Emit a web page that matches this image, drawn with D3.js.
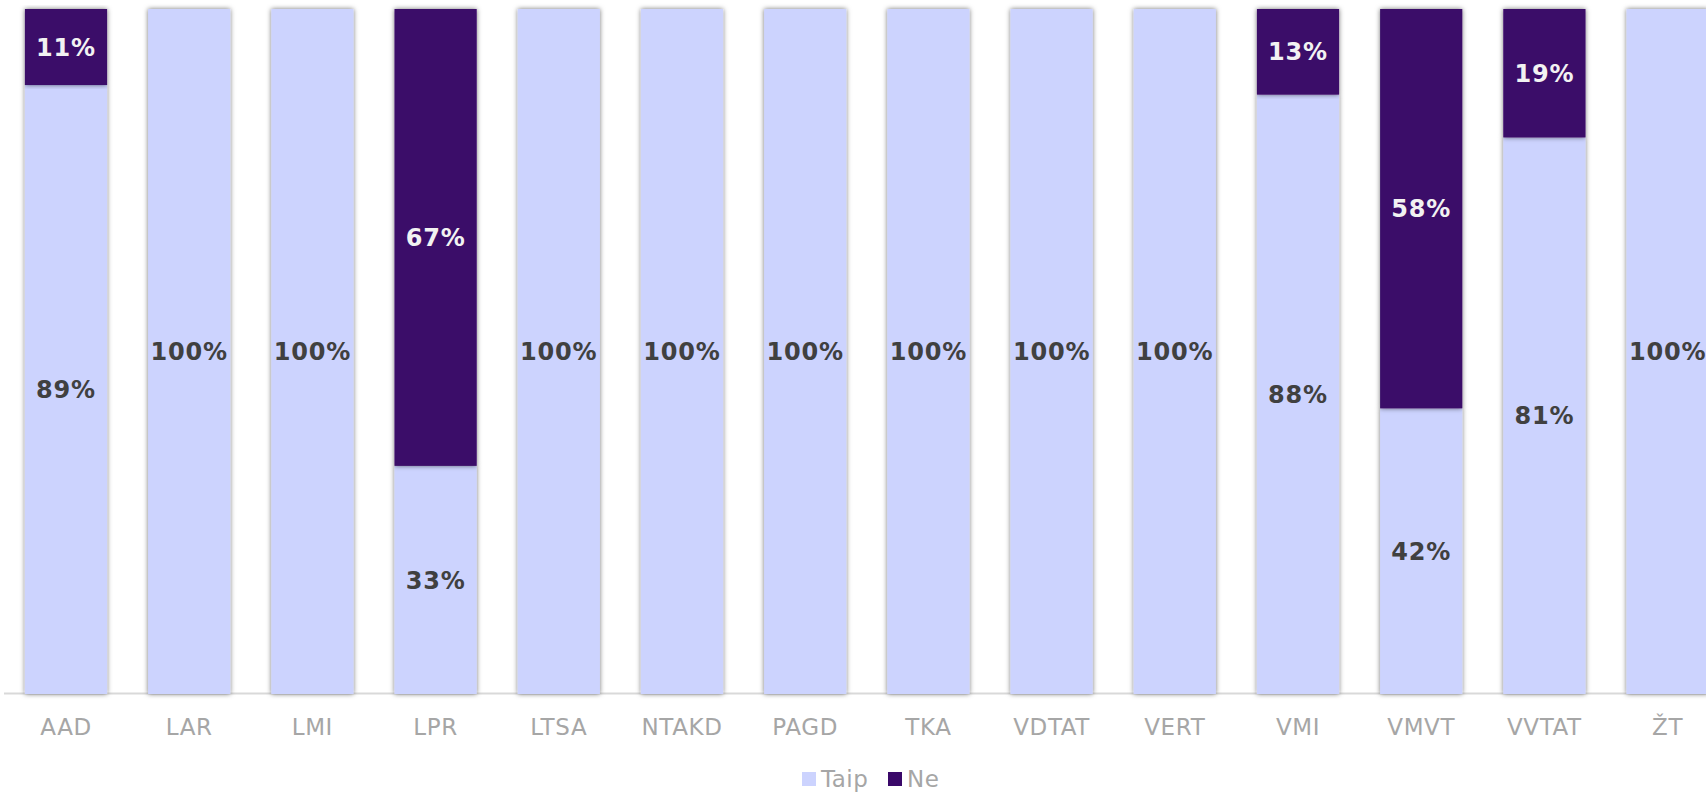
<!DOCTYPE html>
<html>
<head>
    <script type="text/javascript" src="https://d3js.org/d3.v7.min.js"></script>
    <style>
        body { margin: 0; background: #fff; }
        svg text { font-family: Verdana, "DejaVu Sans", sans-serif; }
        .axis-label { fill: #a6a6a6; font-size: 23px; text-anchor: middle; letter-spacing: 0.6px; }
        .val { font-size: 24px; font-weight: bold; text-anchor: middle; letter-spacing: 0.8px; }
        .legend-text { fill: #a6a6a6; font-size: 23px; letter-spacing: 0.5px; }
    </style>
    <title>Taip / Ne</title>
</head>
<body>
    <svg width="1706" height="792"></svg>
    <script>
        // data
        var categories = ["AAD", "LAR", "LMI", "LPR", "LTSA", "NTAKD", "PAGD", "TKA", "VDTAT", "VERT", "VMI", "VMVT", "VVTAT", "ŽT"];
        var taip = [88.9, 100, 100, 33.3, 100, 100, 100, 100, 100, 100, 87.5, 41.7, 81.25, 100];
        var ne   = [11.1, 0, 0, 66.7, 0, 0, 0, 0, 0, 0, 12.5, 58.3, 18.75, 0];
        var seriesNames = ["Taip", "Ne"];
        var colors = ["#ccd3fe", "#3a0869"];
        var labelColors = ["#404040", "#f2f2f2"];

        var svg = d3.select("svg");
        var top_ = 9, bottom = 694;

        var x = d3.scaleBand().domain(categories).range([4.4, 1729.2])
            .paddingInner(0.333).paddingOuter(0.1665);
        var y = d3.scaleLinear().domain([0, 100]).range([bottom, top_]);

        var defs = svg.append("defs");
        var f = defs.append("filter").attr("id", "shadow")
            .attr("x", "-20%").attr("y", "-5%").attr("width", "140%").attr("height", "110%");
        f.append("feDropShadow").attr("dx", 0).attr("dy", 0)
            .attr("stdDeviation", 2.6).attr("flood-color", "#000").attr("flood-opacity", 0.55);

        var rows = categories.map(function (c, i) { return { cat: c, Taip: taip[i], Ne: ne[i] }; });
        var stacked = d3.stack().keys(seriesNames)(rows);

        // axis line
        svg.append("line")
            .attr("x1", 4).attr("x2", 1706)
            .attr("y1", bottom - 0.5).attr("y2", bottom - 0.5)
            .attr("stroke", "#d9d9d9").attr("stroke-width", 2);

        stacked.forEach(function (s, si) {
            var g = svg.append("g");
            g.selectAll("rect")
                .data(s.filter(function (d) { return d[1] - d[0] > 0; }))
                .enter()
                .append("rect")
                .attr("x", function (d) { return x(d.data.cat); })
                .attr("y", function (d) { return y(d[1]); })
                .attr("width", x.bandwidth())
                .attr("height", function (d) { return y(d[0]) - y(d[1]); })
                .attr("fill", colors[si])
                .attr("filter", "url(#shadow)");
        });

        stacked.forEach(function (s, si) {
            svg.append("g").selectAll("text")
                .data(s.filter(function (d) { return d[1] - d[0] > 0; }))
                .enter()
                .append("text")
                .attr("class", "val")
                .attr("fill", labelColors[si])
                .attr("x", function (d) { return x(d.data.cat) + x.bandwidth() / 2; })
                .attr("y", function (d) { return (y(d[0]) + y(d[1])) / 2; })
                .attr("dy", "0.36em")
                .text(function (d) { return Math.round(d[1] - d[0]) + "%"; });
        });

        // category labels
        svg.append("g").selectAll("text")
            .data(categories)
            .enter()
            .append("text")
            .attr("class", "axis-label")
            .attr("x", function (d) { return x(d) + x.bandwidth() / 2; })
            .attr("y", 727)
            .attr("dy", "0.36em")
            .text(function (d) { return d; });

        // legend
        var legend = svg.append("g");
        var lx = [802, 888];
        seriesNames.forEach(function (n, i) {
            legend.append("rect")
                .attr("x", lx[i]).attr("y", 772)
                .attr("width", 14).attr("height", 14)
                .attr("fill", colors[i]);
            legend.append("text")
                .attr("class", "legend-text")
                .attr("x", lx[i] + 19).attr("y", 779)
                .attr("dy", "0.36em")
                .text(n);
        });
    </script>
</body>
</html>
